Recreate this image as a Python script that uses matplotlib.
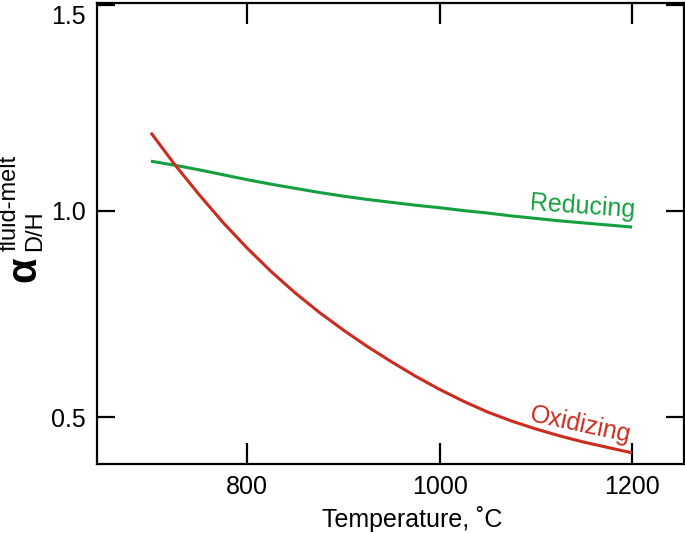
import matplotlib
matplotlib.use('Agg')
import matplotlib.pyplot as plt

plt.rcParams['font.family'] = ['Liberation Sans', 'DejaVu Sans']

# temperature (deg C) and fractionation factor
temp = [700, 725, 750, 775, 800, 825, 850, 875, 900, 925, 950,
        975, 1000, 1025, 1050, 1075, 1100, 1125, 1150, 1175, 1200]
alpha_ox = [1.190, 1.112, 1.040, 0.972, 0.910, 0.853, 0.801, 0.754, 0.711, 0.671, 0.634,
            0.599, 0.567, 0.538, 0.512, 0.490, 0.471, 0.454, 0.439, 0.426, 0.413]
alpha_red = [1.121, 1.111, 1.100, 1.088, 1.076, 1.065, 1.055, 1.045, 1.036, 1.028, 1.021,
             1.014, 1.008, 1.001, 0.995, 0.988, 0.982, 0.976, 0.971, 0.966, 0.961]

x_ticks = [800, 1000, 1200]
y_ticks = [0.5, 1.0, 1.5]
y_ticklabels = ['0.5', '1.0', '1.5']

green = '#15a040'
red = '#cc2b1f'

fig = plt.figure(figsize=(6.85, 5.33), dpi=100)
ax = fig.add_axes([0.1416, 0.1295, 0.857, 0.865])

ax.plot(temp, alpha_red, color=green, lw=2.2, solid_capstyle='butt', solid_joinstyle='round')
ax.plot(temp, alpha_ox, color=red, lw=2.2, solid_capstyle='butt', solid_joinstyle='round')

ax.text(1148, 1.01, 'Reducing', color=green, fontsize=18, rotation=-4,
        ha='center', va='center', rotation_mode='anchor')
ax.text(1146, 0.48, 'Oxidizing', color=red, fontsize=18, rotation=-12,
        ha='center', va='center', rotation_mode='anchor')

ax.set_xlim(644, 1254)
ax.set_ylim(0.386, 1.505)
ax.set_xticks(x_ticks)
ax.set_yticks(y_ticks)
ax.set_yticklabels(y_ticklabels)
ax.get_yticklabels()[-1].set_va('top')

for s in ax.spines.values():
    s.set_linewidth(1.6)
ax.tick_params(axis='both', direction='in', width=1.6, labelsize=18,
               top=True, right=True)
ax.tick_params(axis='x', length=15, pad=8)
ax.tick_params(axis='y', length=13, pad=8)

# axis titles
fig.text(412 / 685, 1 - 527 / 533, 'Temperature, ˚C', fontsize=18,
         ha='center', va='baseline')
fig.text(24 / 685, 1 - 269 / 533, 'α', fontsize=30, fontweight='bold',
         rotation=90, ha='center', va='center')
fig.text(35 / 685, 1 - 251 / 533, 'D/H', fontsize=17,
         rotation=90, ha='center', va='bottom')
fig.text(10 / 685, 1 - 251 / 533, 'fluid-melt', fontsize=17,
         rotation=90, ha='center', va='bottom')

fig.savefig('out.png', dpi=100)
